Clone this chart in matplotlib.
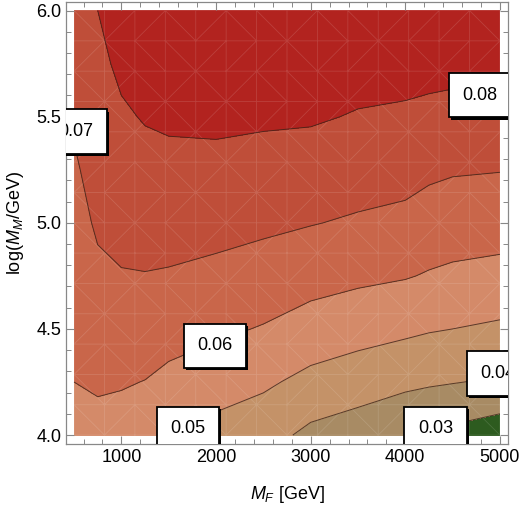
import numpy as np
import matplotlib
matplotlib.use("Agg")
import matplotlib.pyplot as plt
import matplotlib.tri as mtri
from matplotlib.ticker import MultipleLocator
import matplotlib.patheffects as pe

# ==========================================
# Data
# ==========================================

m_f = [500, 750, 1000, 1250, 1500, 2000, 2500, 3000, 3500, 4000, 4250, 4500, 5000]
log_mm = [4.0, 4.25, 4.5, 4.75, 5.0, 5.25, 5.5, 5.75, 6.0]

# one list per M_F column, values from log M_M = 4.0 up to 6.0
col_500 = [0.0578, 0.0600, 0.0622, 0.0644, 0.0666, 0.0688, 0.0712, 0.0742, 0.0772]
col_750 = [0.0574, 0.0610, 0.0646, 0.0683, 0.0712, 0.0734, 0.0756, 0.0778, 0.0800]
col_1000 = [0.0563, 0.0607, 0.0651, 0.0695, 0.0727, 0.0757, 0.0788, 0.0818, 0.0849]
col_1250 = [0.0549, 0.0598, 0.0647, 0.0697, 0.0734, 0.0771, 0.0806, 0.0843, 0.0880]
col_1500 = [0.0498, 0.0576, 0.0638, 0.0693, 0.0735, 0.0776, 0.0814, 0.0850, 0.0880]
col_2000 = [0.0466, 0.0544, 0.0617, 0.0678, 0.0730, 0.0776, 0.0818, 0.0850, 0.0890]
col_2500 = [0.0438, 0.0516, 0.0594, 0.0659, 0.0718, 0.0769, 0.0812, 0.0850, 0.0890]
col_3000 = [0.0377, 0.0473, 0.0560, 0.0636, 0.0704, 0.0758, 0.0810, 0.0845, 0.0880]
col_3500 = [0.0350, 0.0446, 0.0538, 0.0619, 0.0689, 0.0743, 0.0794, 0.0835, 0.0870]
col_4000 = [0.0302, 0.0423, 0.0518, 0.0606, 0.0675, 0.0734, 0.0787, 0.0830, 0.0860]
col_4250 = [0.0287, 0.0412, 0.0507, 0.0593, 0.0656, 0.0718, 0.0781, 0.0825, 0.0855]
col_4500 = [0.0274, 0.0404, 0.0500, 0.0583, 0.0648, 0.0708, 0.0776, 0.0822, 0.0855]
col_5000 = [0.0241, 0.0388, 0.0485, 0.0572, 0.0641, 0.0703, 0.0778, 0.0826, 0.0855]

columns = [col_500, col_750, col_1000, col_1250, col_1500, col_2000, col_2500,
           col_3000, col_3500, col_4000, col_4250, col_4500, col_5000]

levels = [0.0, 0.03, 0.04, 0.05, 0.06, 0.07, 0.08, 0.1]
band_colors = ["#2D5B1F", "#A88B64", "#C49268", "#D48A69",
               "#C9664A", "#BF4E39", "#B2231F"]

label_text = ["0.07", "0.08", "0.06", "0.05", "0.04", "0.03"]
label_x = [520, 4790, 1990, 1700, 4980, 4320]
label_y = [5.43, 5.60, 4.42, 4.03, 4.29, 4.03]

# ==========================================
# Plot
# ==========================================

plt.rcParams['font.family'] = ['Liberation Sans', 'DejaVu Sans']
plt.rcParams['mathtext.fontset'] = 'custom'
plt.rcParams['mathtext.it'] = 'Liberation Sans:italic'
plt.rcParams['mathtext.rm'] = 'Liberation Sans'

X, Y = np.meshgrid(m_f, log_mm)
Z = np.array(columns).T

fig = plt.figure(figsize=(5.21, 5.07), dpi=100)
ax = fig.add_axes([0.1267, 0.1243, 0.8483, 0.8717])

ax.contourf(X, Y, Z, levels=levels, colors=band_colors)

# faint sampling mesh, like the rendering seams of the original
mx, my = np.meshgrid(np.linspace(500, 5000, 15), np.linspace(4, 6, 15))
mesh = mtri.Triangulation(mx.ravel(), my.ravel())
ax.triplot(mesh, color="white", lw=0.6, alpha=0.13)

ax.contour(X, Y, Z, levels=levels[1:-1], colors="#3a2418",
           linewidths=0.7, alpha=0.8)

for t, lx, ly in zip(label_text, label_x, label_y):
    txt = ax.text(lx, ly, t, fontsize=13, ha="center", va="center",
                  bbox=dict(boxstyle="square,pad=0.75", fc="white",
                            ec="black", lw=1.3),
                  clip_on=True, zorder=5)
    txt.get_bbox_patch().set_path_effects([
        pe.SimplePatchShadow(offset=(1.5, -1.5), shadow_rgbFace="black", alpha=1),
        pe.Normal()])

ax.set_xlim(415, 5085)
ax.set_ylim(3.958, 6.04)

ax.xaxis.set_major_locator(MultipleLocator(1000))
ax.xaxis.set_minor_locator(MultipleLocator(200))
ax.yaxis.set_major_locator(MultipleLocator(0.5))
ax.yaxis.set_minor_locator(MultipleLocator(0.1))
ax.yaxis.set_major_formatter(plt.FormatStrFormatter("%.1f"))

ax.tick_params(which="both", direction="in", top=True, right=True,
               color="#888888", labelsize=13)
ax.tick_params(which="major", length=6, width=0.8)
ax.tick_params(which="minor", length=3.5, width=0.7)
for s in ax.spines.values():
    s.set_color("#888888")
    s.set_linewidth(0.9)

ax.set_xlabel(r"$M_F$ [GeV]", fontsize=13, labelpad=13)
ax.set_ylabel(r"log($M_M$/GeV)", fontsize=13, labelpad=7)

plt.savefig("out.png", dpi=100)
